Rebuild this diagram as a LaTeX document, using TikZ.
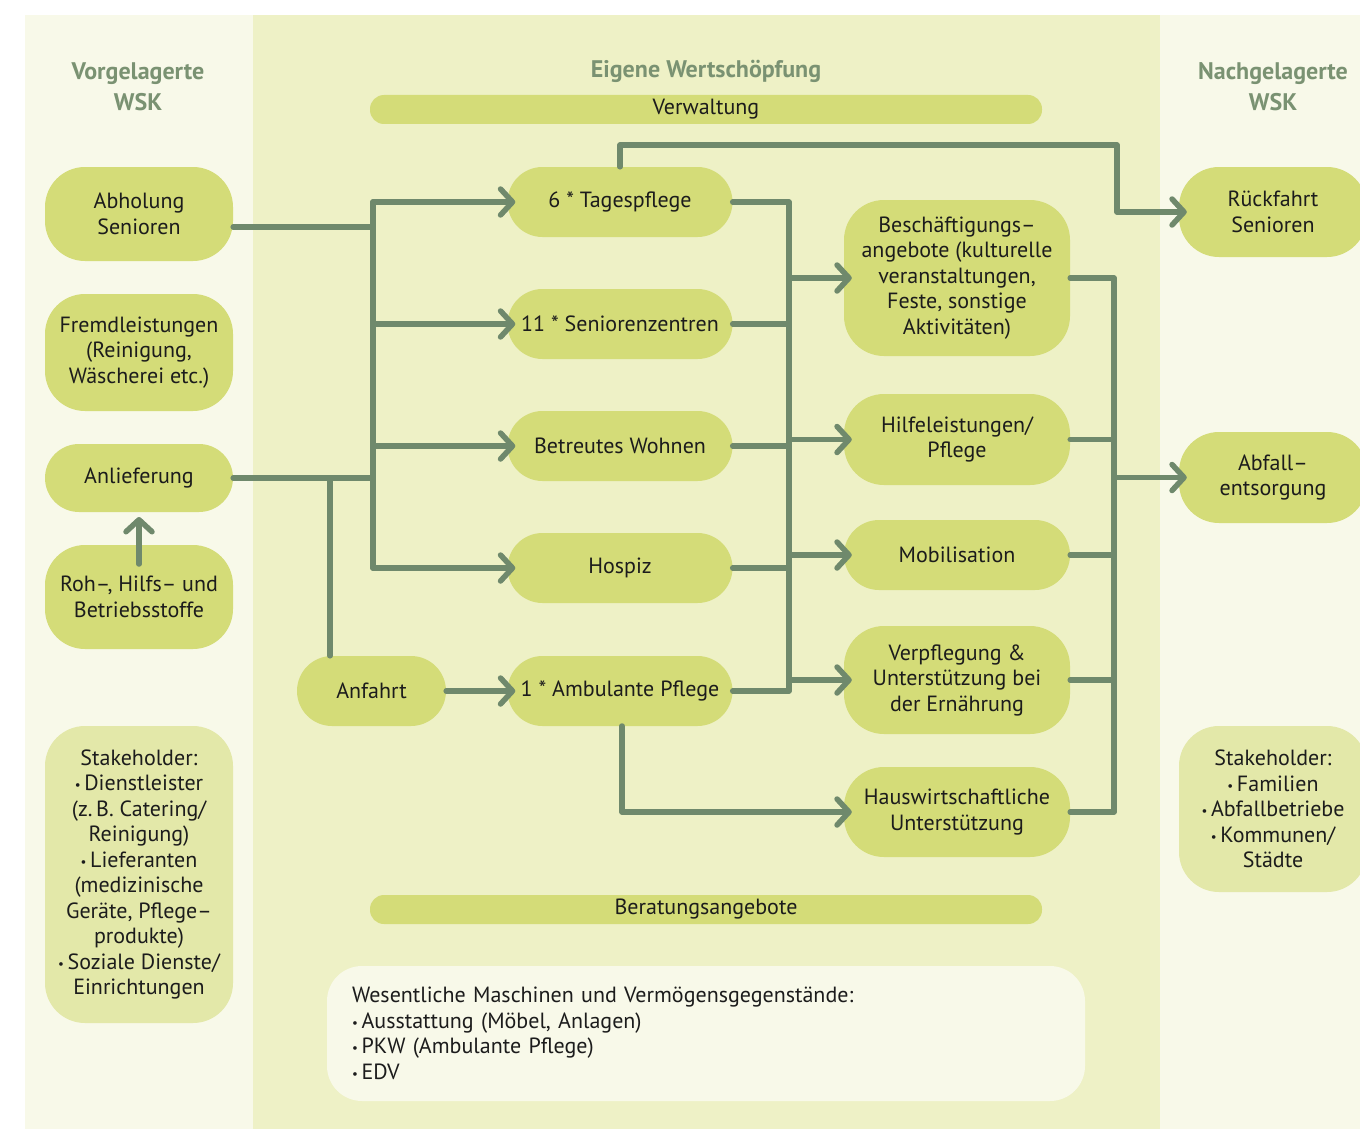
\documentclass[tikz,border=0pt]{standalone}
\usepackage{fontspec}
\setmainfont{PT Sans}
\usetikzlibrary{arrows.meta}
\definecolor{sidebg}{HTML}{F8F9E9}
\definecolor{midbg}{HTML}{EEF1C6}
\definecolor{nodefill}{HTML}{D4DC78}
\definecolor{stakefill}{HTML}{E3E8A9}
\definecolor{linecol}{HTML}{6F896C}
\definecolor{headcol}{HTML}{7A9272}
\definecolor{txt}{HTML}{1C1C1C}
\newcommand{\bul}{{\fontsize{13}{13}\selectfont\raisebox{1pt}{•}}\,}
\tikzset{
  gbox/.style={fill=nodefill, draw=none, align=center, inner sep=0pt, text=txt,
    font=\fontsize{22}{25.5}\selectfont},
  sbox/.style={gbox, fill=stakefill},
  head/.style={align=center, text=headcol, font=\bfseries\fontsize{24}{31}\selectfont},
  conn/.style={draw=linecol, line width=5.5pt, line cap=round, line join=round},
  arr/.style={conn, -{Straight Barb[length=12pt,width=26pt,line cap=round,line join=round]}, shorten >=-8pt},
}
\begin{document}
\begin{tikzpicture}[x=1pt,y=-1pt]
\useasboundingbox (0,0) rectangle (1360,1129);
\fill[white] (0,0) rectangle (1360,1129);
\fill[sidebg] (25,15) rectangle (253,1129);
\fill[midbg] (253,15) rectangle (1160,1129);
\fill[sidebg] (1160,15) rectangle (1360,1129);

% headings
\node[head] (hl) at (138,87) {Vorgelagerte\\WSK};
\node[head] (hm) at (706,71) {Eigene Wertschöpfung};
\node[head] (hr) at (1273,87) {Nachgelagerte\\WSK};

% bars
\node[gbox, minimum width=672pt, minimum height=29pt, rounded corners=14pt] (verw) at (706,109.5) {Verwaltung};
\node[gbox, minimum width=672pt, minimum height=29pt, rounded corners=14pt] (berat) at (706,909.5) {Beratungsangebote};

% bottom box
\node[gbox, fill=sidebg, text width=708pt, inner xsep=25pt, minimum height=135pt, rounded corners=35pt, align=left] (masch) at (706,1033.5)
 {Wesentliche Maschinen und Vermögensgegenstände:\\\bul Ausstattung (Möbel, Anlagen)\\\bul PKW (Ambulante Pflege)\\\bul EDV};

% left column
\node[gbox, minimum width=188pt, minimum height=94pt, rounded corners=40pt] (abh) at (139,214) {Abholung\\Senioren};
\node[gbox, minimum width=188pt, minimum height=117pt, rounded corners=40pt] (fremd) at (139,352.5) {Fremdleistungen\\(Reinigung,\\Wäscherei etc.)};
\node[gbox, minimum width=188pt, minimum height=68pt, rounded corners=34pt] (anl) at (139,478) {Anlieferung};
\node[gbox, minimum width=188pt, minimum height=104pt, rounded corners=40pt] (roh) at (139,597) {Roh–, Hilfs– und\\Betriebsstoffe};
\node[sbox, minimum width=188pt, minimum height=297pt, rounded corners=40pt] (stl) at (139,874.5)
 {Stakeholder:\\\bul Dienstleister\\(z.\,B. Catering/\\Reinigung)\\\bul Lieferanten\\(medizinische\\Geräte, Pflege–\\produkte)\\\bul Soziale Dienste/\\Einrichtungen};

% middle column 1
\node[gbox, minimum width=225pt, minimum height=70pt, rounded corners=35pt] (tag) at (620,202) {6 * Tagespflege};
\node[gbox, minimum width=225pt, minimum height=70pt, rounded corners=35pt] (sen) at (620,324) {11 * Seniorenzentren};
\node[gbox, minimum width=225pt, minimum height=70pt, rounded corners=35pt] (bet) at (620,446) {Betreutes Wohnen};
\node[gbox, minimum width=225pt, minimum height=70pt, rounded corners=35pt] (hosp) at (620,568) {Hospiz};
\node[gbox, minimum width=225pt, minimum height=70pt, rounded corners=35pt] (amb) at (620,691) {1 * Ambulante Pflege};
\node[gbox, minimum width=149pt, minimum height=70pt, rounded corners=35pt] (anf) at (371.5,691) {Anfahrt};

% middle column 2
\node[gbox, minimum width=226pt, minimum height=156pt, rounded corners=40pt] (besch) at (957,278) {Beschäftigungs–\\angebote (kulturelle\\veranstaltungen,\\Feste, sonstige\\Aktivitäten)};
\node[gbox, minimum width=226pt, minimum height=91pt, rounded corners=40pt] (hilfe) at (957,439.5) {Hilfeleistungen/\\Pflege};
\node[gbox, minimum width=226pt, minimum height=70pt, rounded corners=35pt] (mob) at (957,555) {Mobilisation};
\node[gbox, minimum width=226pt, minimum height=108pt, rounded corners=40pt] (verpf) at (957,680) {Verpflegung \&\\Unterstützung bei\\der Ernährung};
\node[gbox, minimum width=226pt, minimum height=90pt, rounded corners=40pt] (hausw) at (957,812) {Hauswirtschaftliche\\Unterstützung};

% right column
\node[gbox, minimum width=188pt, minimum height=90pt, rounded corners=40pt] (rueck) at (1273,212) {Rückfahrt\\Senioren};
\node[gbox, minimum width=188pt, minimum height=91pt, rounded corners=40pt] (abf) at (1273,477.5) {Abfall–\\entsorgung};
\node[sbox, minimum width=188pt, minimum height=166pt, rounded corners=40pt] (str) at (1273,809) {Stakeholder:\\\bul Familien\\\bul Abfallbetriebe\\\bul Kommunen/\\Städte};

% junction coordinates
\coordinate (b1top) at (373,202);
\coordinate (b1bot) at (373,568);
\coordinate (jabh) at (373,227);
\coordinate (janl) at (330,478);
\coordinate (b2top) at (789,202);
\coordinate (b2bot) at (789,691);
\coordinate (b3top) at (1114,278);
\coordinate (b3bot) at (1114,812);
\coordinate (tr1) at (620,145);
\coordinate (tr2) at (1117,145);
\coordinate (ambd) at (622,726);
\coordinate (rohs) at (139,564);
\coordinate (anlt) at (139,525);

% left bus
\draw[conn] (b1top) -- (b1bot);
\draw[conn] ([yshift=-13pt]abh.east) -- (jabh);
\draw[conn] (anl.east) -- (anl.east -| b1top);
\draw[conn] (janl) -- (janl |- anf.north);
\draw[arr] (b1top) -- (tag.west);
\draw[arr] (b1top |- sen.west) -- (sen.west);
\draw[arr] (b1top |- bet.west) -- (bet.west);
\draw[arr] (b1bot) -- (hosp.west);
\draw[arr] (anf.east) -- (amb.west);
\draw[arr] (rohs) -- (anlt);

% Tagespflege to Rueckfahrt
\draw[arr] (tag.north) -- (tr1) -- (tr2) -- (tr2 |- rueck.west) -- (rueck.west);

% middle bus
\draw[conn] (tag.east) -- (b2top) -- (b2bot) -- (amb.east);
\draw[conn] (sen.east) -- (sen.east -| b2top);
\draw[conn] (bet.east) -- (bet.east -| b2top);
\draw[conn] (hosp.east) -- (hosp.east -| b2top);
\draw[arr] (b2top |- besch.west) -- (besch.west);
\draw[arr] (b2top |- hilfe.west) -- (hilfe.west);
\draw[arr] (b2top |- mob.west) -- (mob.west);
\draw[arr] (b2top |- verpf.west) -- (verpf.west);
\draw[arr] (ambd) |- (hausw.west);

% right bus
\draw[conn] (besch.east) -- (b3top) -- (b3bot) -- (hausw.east);
\draw[conn] (hilfe.east) -- (hilfe.east -| b3top);
\draw[conn] (mob.east) -- (mob.east -| b3top);
\draw[conn] (verpf.east) -- (verpf.east -| b3top);
\draw[arr] (b3top |- abf.west) -- (abf.west);
\end{tikzpicture}
\end{document}
